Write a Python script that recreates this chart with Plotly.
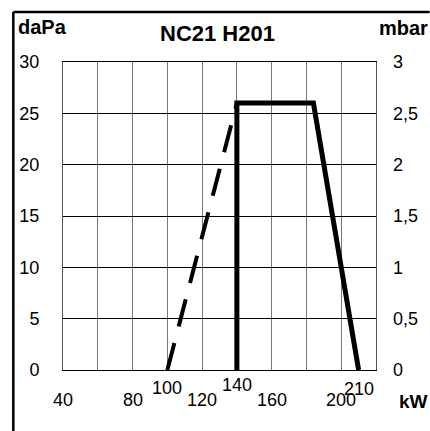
import plotly.graph_objects as go

# Data
solid_kw = [140, 140, 184, 210]
solid_dapa = [0, 26, 26, 0]
dash_kw = [100, 140]
dash_dapa = [0, 26]
x_ticks_low = [40, 80, 120, 160, 200]
x_ticks_high = [100, 140, 210]
x_ticks_high_y = [388, 385, 389]
y_left_ticks = [0, 5, 10, 15, 20, 25, 30]
y_right_ticks = [0, 0.5, 1, 1.5, 2, 2.5, 3]
y_right_text = ["0", "0,5", "1", "1,5", "2", "2,5", "3"]

FONT = "Liberation Sans, Arial, Helvetica, sans-serif"
fs = 18

fig = go.Figure()
fig.add_trace(go.Scatter(x=dash_kw, y=dash_dapa, mode="lines",
                         line=dict(color="black", width=4, dash="28px,17px"),
                         showlegend=False, hoverinfo="skip"))
fig.add_trace(go.Scatter(x=solid_kw, y=solid_dapa, mode="lines",
                         line=dict(color="black", width=5),
                         showlegend=False, hoverinfo="skip"))
# invisible trace for right axis
fig.add_trace(go.Scatter(x=[40], y=[0], yaxis="y2", mode="markers",
                         marker=dict(opacity=0), showlegend=False, hoverinfo="skip"))

fig.update_layout(
    width=430, height=431,
    margin=dict(l=63, r=52, t=62, b=61),
    paper_bgcolor="white", plot_bgcolor="white",
    font=dict(family=FONT, size=fs, color="black"),
    xaxis=dict(range=[40, 220], tickvals=list(range(40, 221, 20)), showticklabels=False,
               showgrid=True, gridcolor="#777777", gridwidth=1,
               showline=True, linecolor="black", linewidth=1, mirror=True,
               ticks="", zeroline=False, fixedrange=True),
    yaxis=dict(range=[0, 30], tickvals=y_left_ticks, showgrid=True, gridcolor="black",
               gridwidth=1, showline=True, linecolor="#555555", linewidth=1, mirror=True,
               ticks="", ticklabelstandoff=19, zeroline=False, fixedrange=True,
               tickfont=dict(size=fs)),
    yaxis2=dict(range=[0, 3], overlaying="y", side="right", tickvals=y_right_ticks,
                ticktext=y_right_text, showgrid=False, ticks="", showline=False,
                ticklabelstandoff=16, zeroline=False, fixedrange=True,
                tickfont=dict(size=fs)),
)

# page pixel -> paper coords (plot area spans page x 63..378, y 62..370)
def py(p):
    return (370 - p) / 308.0
def px(p):
    return (p - 63) / 315.0

annotations = []
for v in x_ticks_low:
    annotations.append(dict(x=v, y=py(400), xref="x", yref="paper", text=str(v), showarrow=False,
                            font=dict(size=fs), xanchor="center", yanchor="middle"))
for v, yy in zip(x_ticks_high, x_ticks_high_y):
    annotations.append(dict(x=v, y=py(yy), xref="x", yref="paper", text=str(v), showarrow=False,
                            font=dict(size=fs), xanchor="center", yanchor="middle"))
annotations += [
    dict(x=px(218), y=py(33), xref="paper", yref="paper", text="<b>NC21 H201</b>",
         showarrow=False, font=dict(size=22), xanchor="center", yanchor="middle"),
    dict(x=px(16), y=py(27), xref="paper", yref="paper", text="<b>daPa</b>",
         showarrow=False, font=dict(size=20), xanchor="left", yanchor="middle"),
    dict(x=px(379), y=py(28), xref="paper", yref="paper", text="<b>mbar</b>",
         showarrow=False, font=dict(size=20), xanchor="left", yanchor="middle"),
    dict(x=px(399), y=py(401), xref="paper", yref="paper", text="<b>kW</b>",
         showarrow=False, font=dict(size=19), xanchor="left", yanchor="middle"),
]
fig.update_layout(annotations=annotations)

# outer frame (top and left)
fig.add_shape(type="line", xref="paper", yref="paper", x0=px(13), x1=px(432),
              y0=py(12), y1=py(12), line=dict(color="black", width=2.5))
fig.add_shape(type="line", xref="paper", yref="paper", x0=px(13), x1=px(13),
              y0=py(12), y1=py(433), line=dict(color="black", width=2.5))

fig.write_html("out.html", config={"displayModeBar": False, "staticPlot": True},
               post_script="document.body.style.margin='0';document.body.style.overflow='hidden';")
